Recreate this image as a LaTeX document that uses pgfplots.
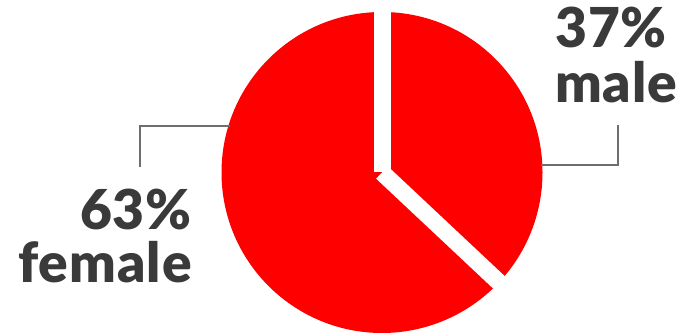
\documentclass[border=0pt]{standalone}
\usepackage{fontspec}
\setmainfont{Lato}
\newfontfamily\lblack{Lato Black}[LetterSpace=1.8]
\usepackage{pgfplots}
\pgfplotsset{compat=1.18}
\definecolor{piered}{HTML}{FF0000}
\definecolor{txt}{HTML}{3A3A3A}
\definecolor{lead}{HTML}{6E6E6E}
\begin{document}
\begin{tikzpicture}
\def\valfemale{63}
\def\valmale{37}
\pgfmathsetmacro\angmale{90-3.6*\valmale}
\pgfmathsetmacro\angfemale{90+3.6*\valfemale}
\begin{axis}[x=1pt,y=1pt,xmin=0,xmax=685,ymin=0,ymax=334,scale only axis,
  hide axis,clip=false,anchor=origin,at={(0,0)}]
\fill[piered] (axis cs:382,161.5) -- (axis cs:382,322) arc[start angle=90,end angle=\angmale,radius=160.5pt] -- cycle;
\fill[piered] (axis cs:382,161.5) -- (axis cs:382,322) arc[start angle=90,end angle=\angfemale,radius=160.5pt] -- cycle;
\draw[white,line width=17pt] (axis cs:382,161.5) -- +(90:175pt);
\draw[white,line width=17pt] (axis cs:382,161.5) -- +(\angmale:175pt);
\draw[lead,line width=1.8pt] (axis cs:230,208.3) -- (axis cs:140,208.3) -- (axis cs:140,167);
\draw[lead,line width=1.8pt] (axis cs:541,169) -- (axis cs:618,169) -- (axis cs:618,209);
\node[anchor=base west,inner sep=0,text=txt,font=\fontsize{55}{55}\lblack\selectfont] at (axis cs:555,286) {37\%};
\node[anchor=base west,inner sep=0,text=txt,font=\fontsize{55}{55}\lblack\selectfont] at (axis cs:555,231) {male};
\node[anchor=base east,inner sep=0,text=txt,font=\fontsize{55}{55}\lblack\selectfont] at (axis cs:192,104) {63\%};
\node[anchor=base east,inner sep=0,text=txt,font=\fontsize{55}{55}\lblack\selectfont] at (axis cs:192,51) {female};
\end{axis}
\pgfresetboundingbox
\path (0,0) rectangle (685pt,334pt);
\end{tikzpicture}
\end{document}
